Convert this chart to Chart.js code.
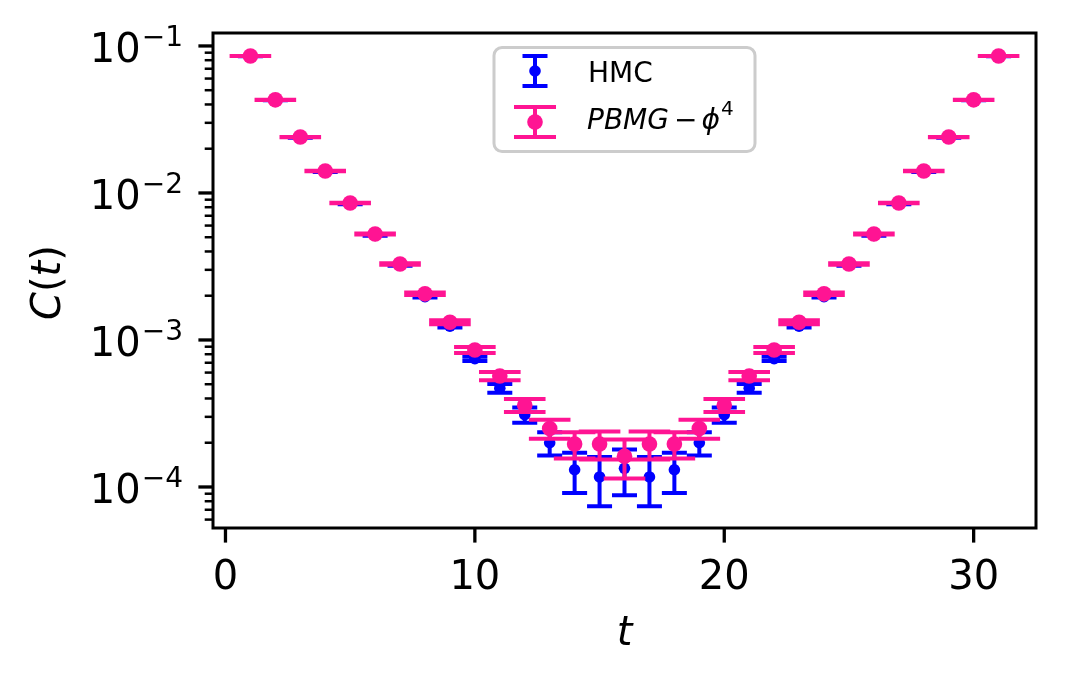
<!DOCTYPE html>
<html><head><meta charset="utf-8">
<script src="https://cdn.jsdelivr.net/npm/chart.js@4.4.0/dist/chart.umd.min.js"></script>
<style>html,body{margin:0;padding:0;background:#fff;} canvas{display:block;}</style>
</head><body>
<canvas id="c" width="1066" height="685"></canvas>
<script>
// ---- data ----
const tValues = [1,2,3,4,5,6,7,8,9,10,11,12,13,14,15,16,17,18,19,20,21,22,23,24,25,26,27,28,29,30,31];
const hmcValues = [0.0850,0.0428,0.0238,0.0139,0.00840,0.00515,0.00322,0.00197,0.00124,0.000745,
  0.000470,0.000310,0.000200,0.000131,0.000117,0.000134,0.000117,0.000131,0.000200,0.000310,
  0.000470,0.000745,0.00124,0.00197,0.00322,0.00515,0.00840,0.0139,0.0238,0.0428,0.0850];
const hmcErrors = [2.5e-5,2.5e-5,2.5e-5,2.5e-5,2.5e-5,2.5e-5,2.5e-5,2.5e-5,2.3e-5,2.5e-5,
  3.2e-5,3.7e-5,3.6e-5,4.0e-5,4.3e-5,4.6e-5,4.3e-5,4.0e-5,3.6e-5,3.7e-5,
  3.2e-5,2.5e-5,2.3e-5,2.5e-5,2.5e-5,2.5e-5,2.5e-5,2.5e-5,2.5e-5,2.5e-5,2.5e-5];
const pbmgValues = [0.0855,0.0430,0.0240,0.0141,0.00855,0.00526,0.00329,0.00206,0.00132,0.000855,
  0.000569,0.000360,0.000250,0.000196,0.000196,0.000162,0.000196,0.000196,0.000250,0.000360,
  0.000569,0.000855,0.00132,0.00206,0.00329,0.00526,0.00855,0.0141,0.0240,0.0430,0.0855];
const pbmgErrors = [4.0e-5,4.0e-5,4.0e-5,4.0e-5,4.0e-5,4.0e-5,4.0e-5,4.0e-5,4.0e-5,4.0e-5,
  3.7e-5,3.6e-5,3.7e-5,4.0e-5,4.2e-5,4.8e-5,4.2e-5,4.0e-5,3.7e-5,3.6e-5,
  3.7e-5,4.0e-5,4.0e-5,4.0e-5,4.0e-5,4.0e-5,4.0e-5,4.0e-5,4.0e-5,4.0e-5,4.0e-5];
const xTicks = [0,10,20,30];
const yMajorTicks = [1e-4,1e-3,1e-2,1e-1];
const yTickExponents = ['\u22124','\u22123','\u22122','\u22121'];
const seriesNames = ['HMC','PBMG'];
const xLabel = 't';

const BLUE = '#0000ff', PINK = '#ff1493';
const FONT = '"DejaVu Sans", sans-serif';

function pts(vals){ return tValues.map((t,i)=>({x:t,y:vals[i]})); }

const errorBarPlugin = {
  id:'errbars',
  beforeDatasetDraw(chart,args){
    const ds = chart.data.datasets[args.index];
    const xs = chart.scales.x, ys = chart.scales.y, ctx = chart.ctx;
    ctx.save();
    ctx.strokeStyle = ds.errColor; ctx.lineWidth = 4; ctx.lineCap = 'butt';
    ds.data.forEach((p,i)=>{
      const e = ds.errors[i];
      const px = xs.getPixelForValue(p.x);
      const top = ys.getPixelForValue(p.y+e), bot = ys.getPixelForValue(p.y-e);
      const c = ds.capHalf;
      ctx.beginPath();
      ctx.moveTo(px,top); ctx.lineTo(px,bot);
      ctx.moveTo(px-c,top); ctx.lineTo(px+c,top);
      ctx.moveTo(px-c,bot); ctx.lineTo(px+c,bot);
      ctx.stroke();
    });
    ctx.restore();
  }
};

const axesPlugin = {
  id:'axesdeco',
  afterDraw(chart){
    const ctx = chart.ctx, a = chart.chartArea, xs = chart.scales.x, ys = chart.scales.y;
    ctx.save();
    // spines
    ctx.strokeStyle = '#000'; ctx.lineWidth = 3;
    ctx.strokeRect(a.left, a.top, a.right-a.left, a.bottom-a.top);
    // x ticks
    ctx.fillStyle = '#000';
    ctx.font = '40px ' + FONT; ctx.textAlign = 'center'; ctx.textBaseline = 'alphabetic';
    xTicks.forEach(v=>{
      const px = xs.getPixelForValue(v);
      ctx.lineWidth = 3.3; ctx.beginPath(); ctx.moveTo(px,a.bottom); ctx.lineTo(px,a.bottom+14.6); ctx.stroke();
      ctx.fillText(String(v), px, 589);
    });
    // y minor ticks
    ctx.lineWidth = 2.5;
    for (let d=-6; d<=0; d++){
      for (let m=2; m<=9; m++){
        const v = m*Math.pow(10,d);
        if (v < ys.min || v > ys.max) continue;
        const py = ys.getPixelForValue(v);
        ctx.beginPath(); ctx.moveTo(a.left-8.3,py); ctx.lineTo(a.left,py); ctx.stroke();
      }
    }
    // y major ticks + labels
    yMajorTicks.forEach((v,i)=>{
      const py = ys.getPixelForValue(v);
      ctx.lineWidth = 3.3; ctx.beginPath(); ctx.moveTo(a.left-14.6,py); ctx.lineTo(a.left,py); ctx.stroke();
      const right = 183;
      ctx.font = '28px ' + FONT; ctx.textAlign = 'left';
      const ew = ctx.measureText(yTickExponents[i]).width;
      ctx.fillText(yTickExponents[i], right-ew, py);
      ctx.font = '40px ' + FONT; ctx.textAlign = 'right';
      ctx.fillText('10', right-ew-1, py+16);
    });
    // y label C(t)
    ctx.save();
    ctx.translate(60, (a.top+a.bottom)/2+2);
    ctx.rotate(-Math.PI/2);
    const parts = [['C','italic 40px '+FONT],['(','40px '+FONT],['t','italic 40px '+FONT],[')','40px '+FONT]];
    let total = 0;
    parts.forEach(p=>{ ctx.font=p[1]; total += ctx.measureText(p[0]).width; });
    let x0 = -total/2; ctx.textAlign='left';
    parts.forEach(p=>{ ctx.font=p[1]; ctx.fillText(p[0], x0, 0); x0 += ctx.measureText(p[0]).width; });
    ctx.restore();
    // x label
    ctx.font = 'italic 40px ' + FONT; ctx.textAlign='center';
    ctx.fillText(xLabel, (a.left+a.right)/2, 645);
    // legend
    ctx.beginPath();
    ctx.roundRect(494, 47.5, 261, 104, 8);
    ctx.fillStyle = 'rgba(255,255,255,0.8)'; ctx.fill();
    ctx.strokeStyle = '#cccccc'; ctx.lineWidth = 3; ctx.stroke();
    const drawHandle = (cx, t, b, c, r, col)=>{
      ctx.strokeStyle = col; ctx.fillStyle = col; ctx.lineWidth = 4;
      ctx.beginPath(); ctx.moveTo(cx,t); ctx.lineTo(cx,b);
      ctx.moveTo(cx-c,t); ctx.lineTo(cx+c,t); ctx.moveTo(cx-c,b); ctx.lineTo(cx+c,b); ctx.stroke();
      ctx.beginPath(); ctx.arc(cx,(t+b)/2,r,0,Math.PI*2); ctx.fill();
    };
    drawHandle(535, 56, 86, 12.5, 5.8, BLUE);
    drawHandle(535, 107, 137, 21, 7.8, PINK);
    ctx.fillStyle = '#000'; ctx.textAlign='left';
    ctx.font = '28px ' + FONT;
    ctx.fillText(seriesNames[0], 588, 81.5);
    let lx = 587;
    ctx.font = 'italic 28px ' + FONT;
    ctx.fillText(seriesNames[1], lx, 129);
    lx += ctx.measureText(seriesNames[1]).width + 5;
    ctx.font = '28px ' + FONT;
    ctx.fillText('\u2212', lx, 129);
    lx += ctx.measureText('\u2212').width + 4;
    ctx.font = 'italic 28px ' + FONT;
    ctx.fillText('\u03D5', lx, 129);
    lx += ctx.measureText('\u03D5').width + 1;
    ctx.font = '20px ' + FONT;
    ctx.fillText('4', lx, 115);
    ctx.restore();
  }
};

new Chart(document.getElementById('c'), {
  type:'scatter',
  data:{ datasets:[
    { label:seriesNames[0], data:pts(hmcValues), errors:hmcErrors, errColor:BLUE, capHalf:12.5,
      pointRadius:5.8, pointBackgroundColor:BLUE, pointBorderWidth:0, pointHoverRadius:5.8, order:1 },
    { label:seriesNames[1], data:pts(pbmgValues), errors:pbmgErrors, errColor:PINK, capHalf:20.8,
      pointRadius:7.8, pointBackgroundColor:PINK, pointBorderWidth:0, pointHoverRadius:7.8, order:0 }
  ]},
  options:{
    responsive:false, devicePixelRatio:1, animation:false, events:[],
    layout:{ padding:{ top:33, right:30, left:0, bottom:0 } },
    plugins:{ legend:{display:false}, tooltip:{enabled:false} },
    scales:{
      x:{ type:'linear', min:-0.5, max:32.5, ticks:{display:false}, grid:{display:false}, border:{display:false},
          afterFit(s){ s.height = 157; } },
      y:{ type:'logarithmic', min:5.26e-5, max:0.1225, ticks:{display:false}, grid:{display:false}, border:{display:false},
          afterFit(s){ s.width = 213; } }
    }
  },
  plugins:[errorBarPlugin, axesPlugin]
});
</script>
</body></html>
